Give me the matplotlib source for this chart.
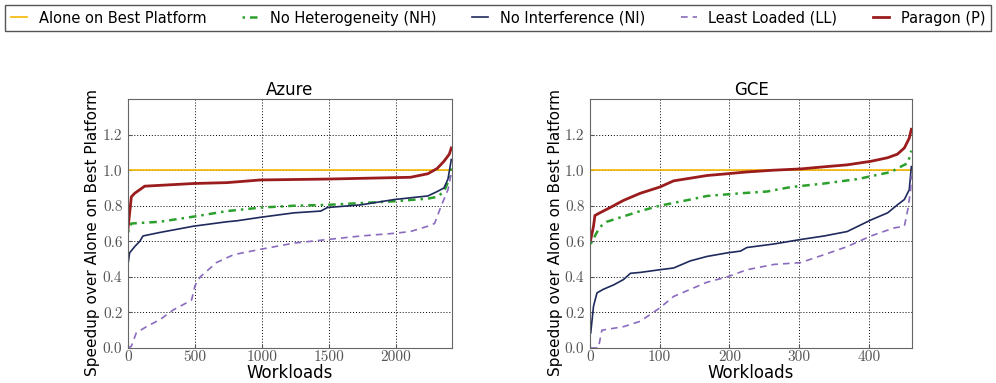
import numpy as np
import matplotlib.pyplot as plt

# Azure: sorted workloads (x) vs speedup (y)
azure_p_x = [0, 25, 50, 125, 490, 740, 990, 1490, 2110, 2175, 2240, 2310, 2360, 2400, 2415]
azure_p_y = [0.67, 0.85, 0.87, 0.91, 0.925, 0.93, 0.945, 0.95, 0.96, 0.97, 0.98, 1.01, 1.05, 1.09, 1.125]
azure_nh_x = [0, 25, 240, 500, 740, 1000, 1240, 1490, 1740, 1990, 2240, 2310, 2360, 2400, 2415]
azure_nh_y = [0.65, 0.70, 0.71, 0.74, 0.77, 0.79, 0.80, 0.805, 0.815, 0.825, 0.84, 0.85, 0.88, 0.95, 1.01]
azure_ni_x = [0, 12, 50, 88, 112, 240, 490, 740, 810, 990, 1240, 1440, 1490, 1740, 1990,
              2240, 2310, 2360, 2390, 2415]
azure_ni_y = [0.47, 0.535, 0.57, 0.60, 0.63, 0.65, 0.685, 0.71, 0.715, 0.735, 0.76, 0.77, 0.79,
              0.805, 0.835, 0.855, 0.88, 0.90, 0.95, 1.06]
azure_ll_x = [0, 25, 62, 138, 240, 340, 440, 475, 500, 540, 660, 790, 990, 1240, 1490, 1740,
              1990, 2110, 2240, 2290, 2340, 2390, 2415]
azure_ll_y = [0.0, 0.01, 0.085, 0.12, 0.16, 0.215, 0.255, 0.27, 0.35, 0.40, 0.48, 0.525, 0.555,
              0.59, 0.61, 0.63, 0.645, 0.655, 0.685, 0.70, 0.80, 0.89, 0.985]

# GCE
gce_p_x = [1, 5, 7, 14, 29, 48, 72, 100, 120, 144, 168, 197, 225, 264, 302, 336, 369, 403,
           427, 441, 451, 458, 461]
gce_p_y = [0.61, 0.685, 0.745, 0.76, 0.79, 0.83, 0.87, 0.905, 0.94, 0.955, 0.97, 0.98, 0.99,
           1.0, 1.007, 1.019, 1.03, 1.05, 1.07, 1.09, 1.125, 1.18, 1.23]
gce_nh_x = [1, 7, 14, 24, 48, 72, 100, 144, 168, 216, 254, 288, 336, 384, 408, 432, 446, 456, 461]
gce_nh_y = [0.585, 0.63, 0.68, 0.71, 0.74, 0.77, 0.80, 0.835, 0.855, 0.87, 0.88, 0.905, 0.925,
            0.95, 0.97, 0.99, 1.02, 1.04, 1.11]
gce_ni_x = [1, 5, 10, 19, 34, 48, 58, 72, 100, 120, 144, 168, 197, 216, 225, 264, 302, 336,
            369, 403, 427, 441, 451, 458, 461]
gce_ni_y = [0.085, 0.235, 0.31, 0.33, 0.355, 0.385, 0.42, 0.425, 0.44, 0.45, 0.49, 0.515,
            0.535, 0.545, 0.565, 0.585, 0.61, 0.63, 0.655, 0.72, 0.76, 0.805, 0.835, 0.89, 1.02]
gce_ll_x = [1, 12, 17, 48, 72, 100, 120, 144, 168, 197, 225, 264, 302, 336, 369, 403, 436,
            451, 456, 460, 461]
gce_ll_y = [0.0, 0.0, 0.10, 0.12, 0.15, 0.225, 0.29, 0.33, 0.37, 0.40, 0.44, 0.47, 0.48,
            0.525, 0.57, 0.63, 0.675, 0.685, 0.78, 0.89, 0.97]

labels = ["Alone on Best Platform", "No Heterogeneity (NH)", "No Interference (NI)",
          "Least Loaded (LL)", "Paragon (P)"]


def draw_panel(ax, title, xmax, xticks, p, nh, ni, ll):
    """Draw one speedup panel."""
    ax.axhline(1.0, color="#f5b800", lw=1.2, label=labels[0])
    ax.plot(*nh, color="#2ca02c", lw=1.8, ls=(0, (1, 2, 3, 2)), label=labels[1])
    ax.plot(*ni, color="#1f2a5c", lw=1.2, label=labels[2])
    ax.plot(*ll, color="#8a6bbf", lw=1.2, ls=(0, (4, 3)), label=labels[3])
    ax.plot(*p, color="#9b1c1c", lw=2.0, label=labels[4])
    ax.set_xlim(0, xmax)
    ax.set_ylim(0, 1.4)
    ax.set_xticks(xticks)
    ax.set_yticks([0.0, 0.2, 0.4, 0.6, 0.8, 1.0, 1.2])
    ax.set_yticklabels(["0.0", "0.2", "0.4", "0.6", "0.8", "1.0", "1.2"])
    ax.grid(True, ls=(0, (1, 2)), color="black", lw=0.7)
    ax.tick_params(direction="in", labelsize=11, colors="#555555", length=3)
    ax.tick_params(axis="x", pad=2)
    ax.tick_params(axis="y", pad=4)
    for lab in ax.get_xticklabels() + ax.get_yticklabels():
        lab.set_family("cmr10")
    for s in ax.spines.values():
        s.set_color("#666666")
    ax.set_title(title, fontsize=12, pad=3)
    ax.set_xlabel("Workloads", fontsize=12, labelpad=0)
    ax.set_ylabel("Speedup over Alone on Best Platform", fontsize=11)
    ax.yaxis.set_label_coords(-0.085, 0.465)


def main():
    fig = plt.figure(figsize=(9.96, 3.83), dpi=100)
    ax1 = fig.add_axes([0.1285, 0.0914, 0.3253, 0.65])
    ax2 = fig.add_axes([0.5924, 0.0914, 0.3233, 0.65])
    draw_panel(ax1, "Azure", 2420, [0, 500, 1000, 1500, 2000],
               (azure_p_x, azure_p_y), (azure_nh_x, azure_nh_y),
               (azure_ni_x, azure_ni_y), (azure_ll_x, azure_ll_y))
    draw_panel(ax2, "GCE", 462, [0, 100, 200, 300, 400],
               (gce_p_x, gce_p_y), (gce_nh_x, gce_nh_y),
               (gce_ni_x, gce_ni_y), (gce_ll_x, gce_ll_y))
    handles, labs = ax1.get_legend_handles_labels()
    leg = fig.legend(handles, labs, ncol=5, mode="expand", loc="lower left",
                     bbox_to_anchor=(0.005, 0.918, 0.99, 0.078), fontsize=10.5,
                     fancybox=False, edgecolor="#555555", handlelength=1.1,
                     borderaxespad=0, framealpha=1)
    leg.get_frame().set_linewidth(1.0)
    fig.savefig("out.png", dpi=100)


if __name__ == "__main__":
    main()
